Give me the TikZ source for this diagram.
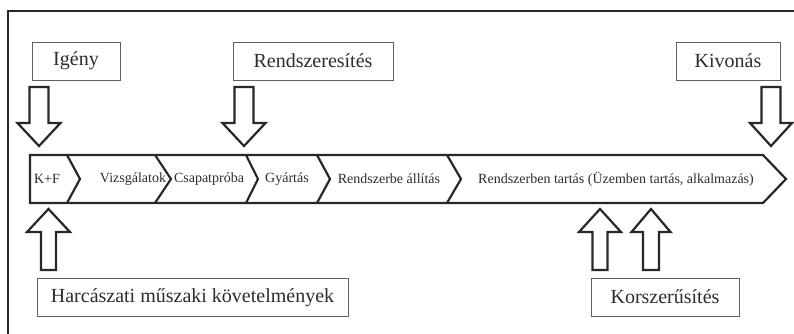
\documentclass[tikz,border=0pt]{standalone}
\usepackage{fontspec}
\setmainfont{Liberation Serif}
\definecolor{ink}{RGB}{40,40,40}
\definecolor{txt}{RGB}{45,45,45}
\definecolor{boxc}{RGB}{95,95,95}
\newcommand\blockarrow[6]{% cx, base y, shoulder y, tip y, shaft half, head half
  \draw[arrowshape] (#1-#5,#2) -- (#1+#5,#2) -- (#1+#5,#3) -- (#1+#6,#3) -- (#1,#4)
    -- (#1-#6,#3) -- (#1-#5,#3) -- cycle;}
\tikzset{
  arrowshape/.style={draw=ink, line width=2.2pt, line join=miter, fill=white},
  band/.style={draw=ink, line width=2.2pt, line join=miter},
  lab/.style={draw=boxc, line width=0.9pt, text=txt, inner sep=0pt,
    font=\fontsize{20}{24}\selectfont, minimum height=38pt},
  stage/.style={text=txt, inner sep=0pt, font=\fontsize{14}{16}\selectfont},
}
\begin{document}
\begin{tikzpicture}[x=1pt, y=-1pt]
\useasboundingbox (0,0) rectangle (794,333);
\clip (0,0) rectangle (794,333);
\fill[white] (0,0) rectangle (794,333);
% outer frame
\draw[ink, line width=1.4pt] (8,345) -- (8,11) -- (810,11);
% band
\draw[band] (30,155) -- (763,155) -- (786,179) -- (763,203) -- (30,203) -- cycle;
\foreach \a/\b in {67/80, 155/171, 246/258, 317/330, 447/461}
  \draw[band] (\a,155) -- (\b,179) -- (\a,203);
% stage texts
\node[stage] (kf) at (47,179) {K+F};
\node[stage] (vizs) at (133,179) {Vizsgálatok};
\node[stage] (csap) at (209,179) {Csapatpróba};
\node[stage] (gyar) at (287,179) {Gyártás};
\node[stage] (rbe) at (389,179) {Rendszerbe állítás};
\node[stage] (rben) at (616,179) {Rendszerben tartás (Üzemben tartás, alkalmazás)};
% labels
\node[lab, minimum width=88pt] (igeny) at (76,61) {Igény};
\node[lab, minimum width=160pt] (rendsz) at (313,61) {Rendszeresítés};
\node[lab, minimum width=104pt] (kivon) at (728,61) {Kivonás};
\node[lab, minimum width=311pt] (harc) at (192.5,297.5) {Harcászati műszaki követelmények};
\node[lab, minimum width=148pt] (korsz) at (665,297) {Korszerűsítés};
% block arrows
\blockarrow{39}{87}{123}{146}{9.5}{21.5}
\blockarrow{244}{87}{123}{146}{9.5}{21.5}
\blockarrow{771}{87}{123}{146}{9.5}{21}
\blockarrow{48.5}{270}{232}{209}{7.5}{21.5}
\blockarrow{600}{270}{232}{209}{7.5}{21}
\blockarrow{651}{270}{232}{209}{8}{19.5}
\end{tikzpicture}
\end{document}
